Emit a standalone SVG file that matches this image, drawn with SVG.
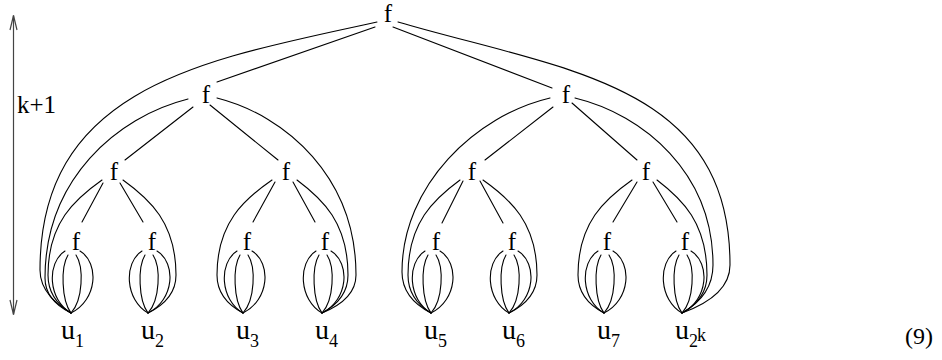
<svg xmlns="http://www.w3.org/2000/svg" width="942" height="360" viewBox="0 0 942 360">
<style>
  .ln{fill:none;stroke:#000;stroke-width:1.1;stroke-linecap:round}
  .ax{fill:none;stroke:#444;stroke-width:1.2}
  .f{font-family:"Liberation Serif","Times New Roman",serif;font-size:25px;text-anchor:middle;fill:#000}
  .u{font-family:"Liberation Serif","Times New Roman",serif;font-size:28px;fill:#000}
  .sub{font-size:18px}
  .lbl{font-family:"Liberation Serif","Times New Roman",serif;font-size:25px;fill:#000}
  .eq{font-family:"Liberation Serif","Times New Roman",serif;font-size:24px;fill:#000}
</style>
<defs>
  <g id="lobes">
    <path class="ln" d="M-6,-62 C-24.7,-50 -22.8,-13 0,0"/>
    <path class="ln" d="M-3,-58 C-10.4,-46 -9.6,-13 0,0"/>
    <path class="ln" d="M5,-58 C13,-46 12,-13 0,0"/>
    <path class="ln" d="M9,-62 C28.6,-50 26.4,-13 0,0"/>
  </g>
</defs>
<rect width="942" height="360" fill="#fff"/>

<g id="height-arrow">
  <line class="ax" x1="13.5" y1="15.5" x2="13.5" y2="314.5"/>
  <polyline class="ax" points="10,30 13.5,15.5 17,30"/>
  <polyline class="ax" points="10,300 13.5,314.5 17,300"/>
  <text class="lbl" x="17" y="113">k+1</text>
</g>

<g id="connectors">
  <line class="ln" x1="375" y1="27" x2="217" y2="82"/>
  <line class="ln" x1="393" y1="27" x2="552" y2="88"/>
  <line class="ln" x1="193" y1="107" x2="125" y2="160"/>
  <line class="ln" x1="210" y1="105" x2="278" y2="160"/>
  <line class="ln" x1="553" y1="107" x2="485" y2="160"/>
  <line class="ln" x1="572" y1="103" x2="637" y2="160"/>
  <line class="ln" x1="103" y1="183" x2="82" y2="222"/>
  <line class="ln" x1="120" y1="183" x2="143" y2="222"/>
  <line class="ln" x1="275" y1="182" x2="253" y2="222"/>
  <line class="ln" x1="293" y1="182" x2="315" y2="222"/>
  <line class="ln" x1="463" y1="181" x2="442" y2="223"/>
  <line class="ln" x1="480" y1="181" x2="503" y2="223"/>
  <line class="ln" x1="637" y1="182" x2="613" y2="222"/>
  <line class="ln" x1="653" y1="182" x2="677" y2="222"/>
  <path class="ln" d="M377,22 C208.5,59.2 40,84 40,270 C40,291.5 57.1,304.4 71,313"/>
  <path class="ln" d="M398,22 C564,70.6 730,82.8 730,265 C730,289 708.4,303.4 682,313"/>
  <path class="ln" d="M188,99 C116.5,116.9 45,179.5 45,278 C45,295.5 56.7,306 71,313"/>
  <path class="ln" d="M217,98 C286.5,115.7 356,177.7 356,275 C356,294 340.7,305.4 322,313"/>
  <path class="ln" d="M550,98 C476,115.4 402,185 402,272 C402,292.5 415,304.8 431,313"/>
  <path class="ln" d="M575,98 C644,114.7 713,173.2 713,265 C713,289 699,303.4 682,313"/>
  <path class="ln" d="M102,180 C75,199 48,222.8 48,275 C48,294 58.4,305.4 71,313"/>
  <path class="ln" d="M123,180 C149.5,199 176,222.8 176,275 C176,294 163.4,305.4 148,313"/>
  <path class="ln" d="M272,180 C244.5,199 217,222.8 217,275 C217,294 228.7,305.4 243,313"/>
  <path class="ln" d="M297,180 C322.5,199 348,222.8 348,275 C348,294 336.3,305.4 322,313"/>
  <path class="ln" d="M460,180 C434,199 408,222.8 408,275 C408,294 418.4,305.4 431,313"/>
  <path class="ln" d="M483,180 C510,199 537,222.8 537,275 C537,294 524.4,305.4 509,313"/>
  <path class="ln" d="M632,180 C605,199 578,222.8 578,275 C578,294 589.7,305.4 604,313"/>
  <path class="ln" d="M657,180 C682,199 707,222.8 707,275 C707,294 695.8,305.4 682,313"/>
  <use href="#lobes" x="71" y="313"/>
  <use href="#lobes" x="148" y="313"/>
  <use href="#lobes" x="243" y="313"/>
  <use href="#lobes" x="322" y="313"/>
  <use href="#lobes" x="431" y="313"/>
  <use href="#lobes" x="509" y="313"/>
  <use href="#lobes" x="604" y="313"/>
  <use href="#lobes" x="682" y="313"/>
</g>

<g id="f-root"><text class="f" x="388" y="22">f</text></g>
<g id="f-2a"><text class="f" x="206" y="103">f</text></g>
<g id="f-2b"><text class="f" x="566" y="103">f</text></g>
<g id="f-3a"><text class="f" x="114" y="180">f</text></g>
<g id="f-3b"><text class="f" x="286" y="180">f</text></g>
<g id="f-3c"><text class="f" x="472" y="180">f</text></g>
<g id="f-3d"><text class="f" x="646" y="180">f</text></g>
<g id="f-4a"><text class="f" x="76" y="250">f</text></g>
<g id="f-4b"><text class="f" x="152" y="250">f</text></g>
<g id="f-4c"><text class="f" x="247" y="250">f</text></g>
<g id="f-4d"><text class="f" x="325" y="250">f</text></g>
<g id="f-4e"><text class="f" x="436" y="250">f</text></g>
<g id="f-4f"><text class="f" x="512" y="250">f</text></g>
<g id="f-4g"><text class="f" x="607" y="250">f</text></g>
<g id="f-4h"><text class="f" x="685" y="250">f</text></g>

<g id="u1"><text class="u" x="61" y="339">u<tspan class="sub" dy="8">1</tspan></text></g>
<g id="u2"><text class="u" x="141" y="339">u<tspan class="sub" dy="8">2</tspan></text></g>
<g id="u3"><text class="u" x="236" y="339">u<tspan class="sub" dy="8">3</tspan></text></g>
<g id="u4"><text class="u" x="315" y="339">u<tspan class="sub" dy="8">4</tspan></text></g>
<g id="u5"><text class="u" x="424" y="339">u<tspan class="sub" dy="8">5</tspan></text></g>
<g id="u6"><text class="u" x="502" y="339">u<tspan class="sub" dy="8">6</tspan></text></g>
<g id="u7"><text class="u" x="597" y="339">u<tspan class="sub" dy="8">7</tspan></text></g>
<g id="u2k"><text class="u" x="675" y="339">u<tspan class="sub" dy="8">2</tspan><tspan class="sub" font-size="15" dx="-1" dy="-6">k</tspan></text></g>

<g id="eq-number"><text class="eq" x="905" y="344">(9)</text></g>
</svg>
